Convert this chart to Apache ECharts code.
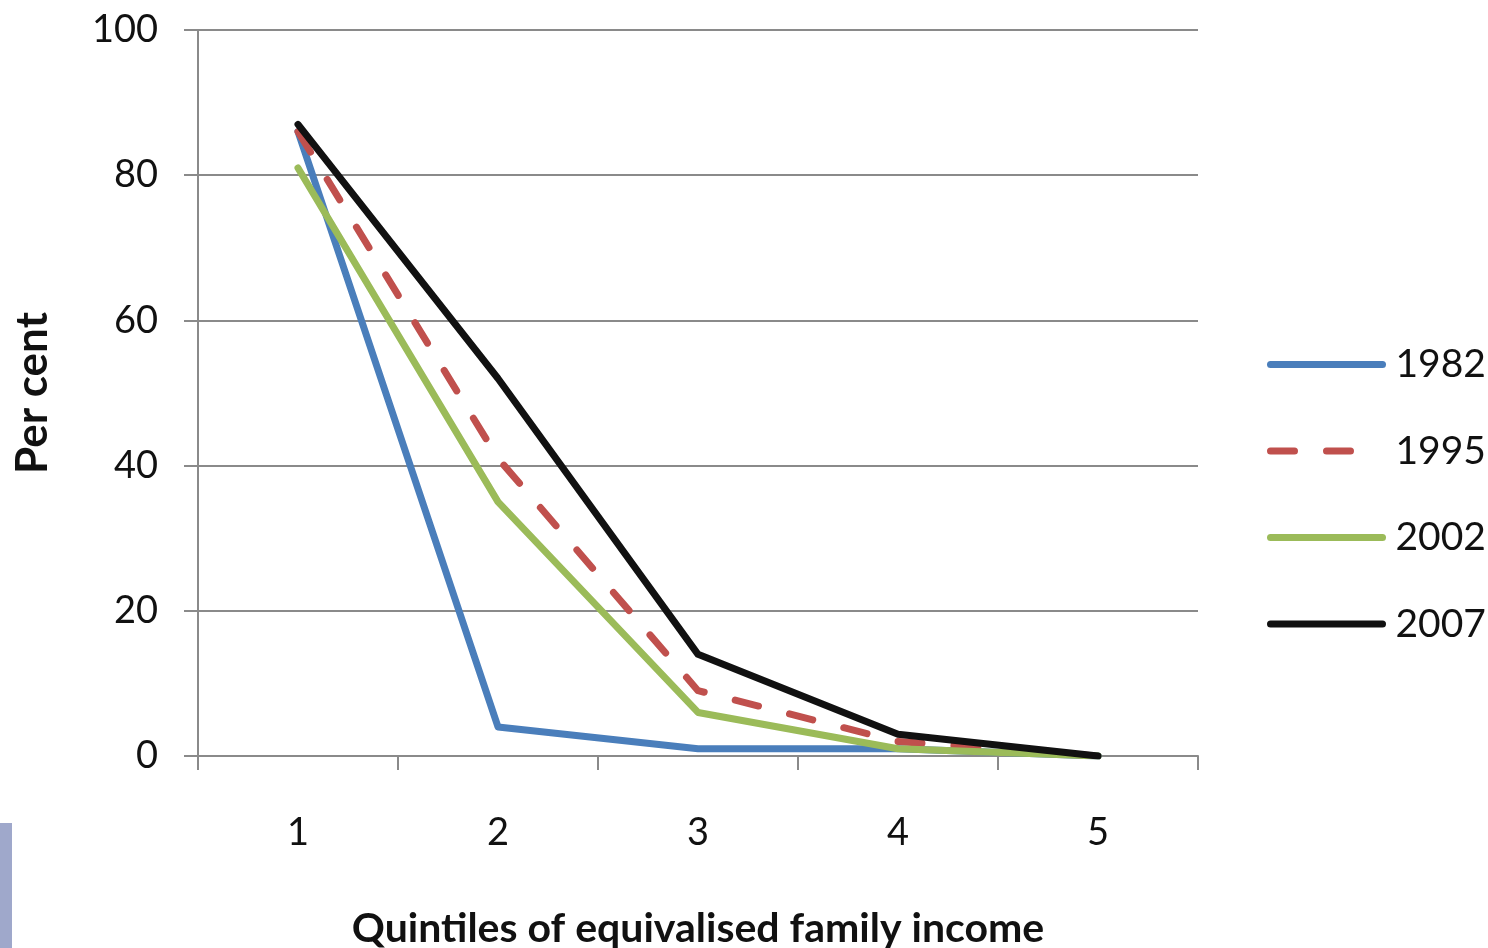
<!DOCTYPE html>
<html><head><meta charset="utf-8">
<script src="https://cdn.jsdelivr.net/npm/echarts@6/dist/echarts.min.js"></script>
<style>html,body{margin:0;padding:0;background:#fff}#c{width:1488px;height:948px}</style>
</head><body><div id="c"></div>
<script>
const categories = ['1', '2', '3', '4', '5'];
const s1982 = [86, 4, 1, 1, 0];
const s1995 = [86, 41, 9, 2, 0];
const s2002 = [81, 35, 6, 1, 0];
const s2007 = [87, 52, 14, 3, 0];
const yTicks = [0, 20, 40, 60, 80, 100];

const font = 'Lato';
const chart = echarts.init(document.getElementById('c'));
function line(name, data, color, dash) {
  return {
    name, type: 'line', data, symbol: 'none', smooth: false,
    lineStyle: { color, width: 7, type: dash ? [24, 32] : 'solid', cap: 'round', join: 'round' },
    itemStyle: { color }
  };
}
chart.setOption({
  animation: false,
  textStyle: { fontFamily: font },
  grid: { left: 198, right: 290, top: 30, bottom: 192, outerBoundsMode: 'none', containLabel: false },
  legend: {
    orient: 'vertical', left: 1262, top: 340,
    itemWidth: 112, itemHeight: 40, itemGap: 47.5,
    itemStyle: { opacity: 0, borderWidth: 0 },
    lineStyle: { width: 7, cap: 'round' },
    textStyle: { fontSize: 39, color: '#111', fontFamily: font, padding: [0, 0, 0, 8] },
    data: ['1982', '1995', '2002', '2007']
  },
  xAxis: {
    type: 'category', data: categories, boundaryGap: true,
    name: 'Quintiles of equivalised family income', nameLocation: 'middle', nameGap: 152,
    nameTextStyle: { fontSize: 41, fontWeight: 'bold', color: '#111', fontFamily: font },
    axisLine: { lineStyle: { color: '#8a8a8a', width: 2 } },
    axisTick: { show: true, length: 14, lineStyle: { color: '#8a8a8a', width: 2 } },
    axisLabel: { fontSize: 38, color: '#111', margin: 58 }
  },
  yAxis: {
    type: 'value', min: yTicks[0], max: yTicks[yTicks.length - 1], interval: 20,
    name: 'Per cent', nameLocation: 'middle', nameGap: 143, nameRotate: 90,
    nameTextStyle: { fontSize: 44, fontWeight: 'bold', color: '#111', fontFamily: font },
    axisLine: { show: true, lineStyle: { color: '#8a8a8a', width: 2 } },
    axisTick: { show: true, length: 14, lineStyle: { color: '#8a8a8a', width: 2 } },
    axisLabel: { fontSize: 38, color: '#111', margin: 40 },
    splitLine: { lineStyle: { color: '#8a8a8a', width: 2 } }
  },
  series: [
    line('1982', s1982, '#4a7ebb', false),
    line('1995', s1995, '#c0504d', true),
    line('2002', s2002, '#9bbb59', false),
    line('2007', s2007, '#111111', false)
  ],
  graphic: [{ type: 'rect', left: 0, top: 823, shape: { width: 12, height: 125 }, style: { fill: '#9fa8cb' } }]
});
</script></body></html>
